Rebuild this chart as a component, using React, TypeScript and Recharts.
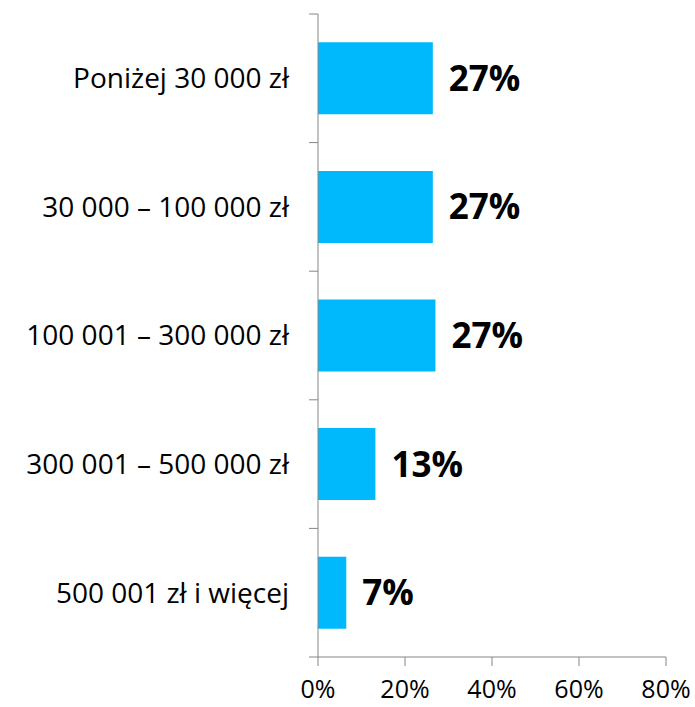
import React from 'react'
import { BarChart, Bar, XAxis, YAxis, LabelList } from 'recharts'

const categories = [
  'Poniżej 30 000 zł',
  '30 000 – 100 000 zł',
  '100 001 – 300 000 zł',
  '300 001 – 500 000 zł',
  '500 001 zł i więcej',
]
const shares = [26.4, 26.4, 27.0, 13.2, 6.5]
const shareLabels = ['27%', '27%', '27%', '13%', '7%']
const xTicks = [0, 20, 40, 60, 80]
const bandTicks = [0, 1, 2, 3, 4, 5]

const data = categories.map((name, i) => ({
  name,
  value: shares[i],
  label: shareLabels[i],
  pos: i + 0.5,
}))

const axisGray = '#868686'
const font = '"Open Sans", sans-serif'

export default function App() {
  return (
    <div style={{ position: 'absolute', left: 0, top: 0, fontFamily: font }}>
      <BarChart
        width={695}
        height={707}
        data={data}
        layout="vertical"
        margin={{ top: 14, right: 29, bottom: 0, left: 0 }}
        barCategoryGap="22%"
      >
        <XAxis
          type="number"
          domain={[0, 80]}
          ticks={xTicks}
          tickFormatter={(v) => `${v}%`}
          height={50}
          tickSize={9}
          tickMargin={14}
          axisLine={{ stroke: axisGray }}
          tickLine={{ stroke: axisGray }}
          tick={{ fill: '#000', fontSize: 25, fontFamily: font }}
        />
        <YAxis
          yAxisId="cat"
          type="category"
          dataKey="name"
          width={317}
          axisLine={false}
          tickLine={false}
          tickMargin={22}
          tick={{ fill: '#000', fontSize: 28, fontFamily: font }}
        />
        {/* boundary ticks between categories */}
        <YAxis
          yAxisId="band"
          type="number"
          dataKey="pos"
          domain={[0, 5]}
          allowDataOverflow
          ticks={bandTicks}
          interval={0}
          width={1}
          tickSize={9}
          tickFormatter={() => ''}
          axisLine={{ stroke: axisGray }}
          tickLine={{ stroke: axisGray }}
        />
        <Bar dataKey="value" yAxisId="cat" fill="#00B9FD" isAnimationActive={false}>
          <LabelList
            dataKey="label"
            position="right"
            offset={16}
            fill="#000"
            style={{ fontSize: 35, fontWeight: 700, fontFamily: font }}
          />
        </Bar>
      </BarChart>
    </div>
  )
}
